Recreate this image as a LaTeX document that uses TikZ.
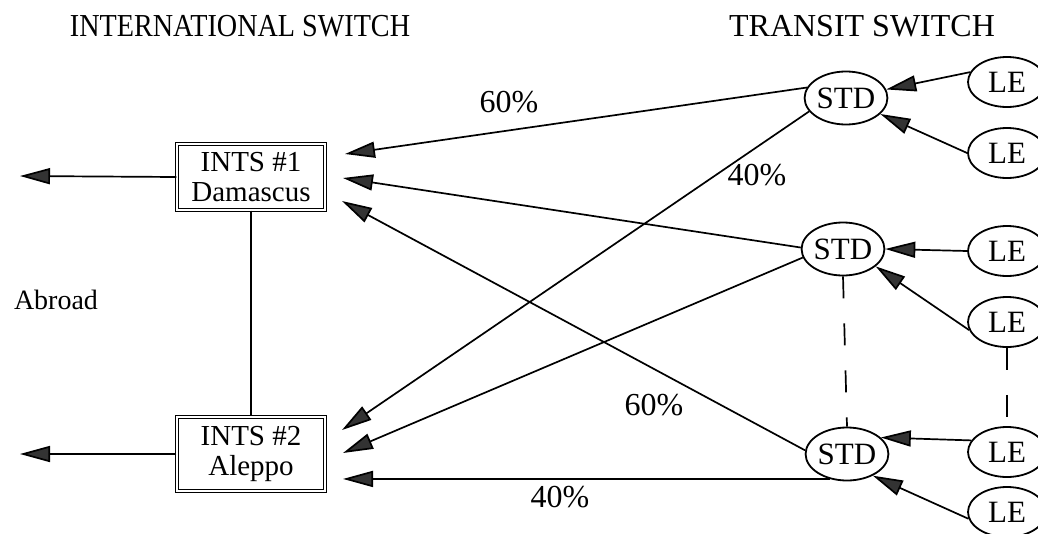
\documentclass[tikz,border=0pt]{standalone}
\usepackage{fontspec}
\setmainfont{Liberation Serif}
\usetikzlibrary{arrows.meta,calc,shapes.geometric}
\begin{document}
\begin{tikzpicture}[x=1pt,y=-1pt,
  conn/.style={line width=1.7pt, -{Triangle[length=30pt,width=16pt,fill=black!80]}},
  box/.style={draw, double, double distance=2.2pt, line width=1.1pt, minimum width=148pt, align=center, font=\fontsize{29}{30}\selectfont, inner sep=0pt},
  stdnode/.style={ellipse, draw, line width=1.8pt, minimum width=75pt, minimum height=53pt, inner sep=0pt, font=\fontsize{31}{31}\selectfont},
  lenode/.style={ellipse, draw, line width=1.8pt, minimum width=78pt, minimum height=50pt, inner sep=0pt, font=\fontsize{31}{31}\selectfont},
  lbl/.style={font=\fontsize{32}{32}\selectfont, inner sep=0pt},
  dsh/.style={line width=1.7pt, dash pattern=on 22pt off 25pt}]
\useasboundingbox (0,0) rectangle (1038,533);
\fill[white] (0,0) rectangle (1038,533);

% titles
\node[lbl] (t1) at (240,26) {\scalebox{0.88}[1]{INTERNATIONAL SWITCH}};
\node[lbl] (t2) at (862,26) {TRANSIT SWITCH};

% international switches
\node[box, minimum height=66pt] (ints1) at (251,177) {INTS \#1\\Damascus};
\node[box, minimum height=74pt] (ints2) at (251,454) {INTS \#2\\Aleppo};
\draw[line width=1.7pt] (ints1.south) -- (ints2.north);

\node[font=\fontsize{28}{28}\selectfont, inner sep=0pt] (abroad) at (56,300) {Abroad};
\coordinate (ab1) at (20,176);
\coordinate (ab2) at (20,454);
\draw[conn] (ints1.west) -- (ab1);
\draw[conn] (ints2.west) -- (ab2);

% transit switches
\node[stdnode] (stdA) at (846,98) {STD};
\node[stdnode] (stdB) at (843,249) {STD};
\node[stdnode] (stdC) at (847,454) {STD};

% local exchanges
\node[lenode] (le1) at (1007,82) {LE};
\node[lenode] (le2) at (1007,153) {LE};
\node[lenode] (le3) at (1007,251) {LE};
\node[lenode] (le4) at (1007,322) {LE};
\node[lenode] (le5) at (1007,452) {LE};
\node[lenode] (le6) at (1007,512) {LE};

% LE -> STD
\draw[conn] (le1.165) -- (stdA.12);
\draw[conn] (le2.west) -- (stdA.-25);
\draw[conn] (le3.west) -- (stdB.east);
\draw[conn] (le4.192) -- (stdB.-28);
\draw[conn] (le5.162) -- (stdC.26);
\draw[conn] (le6.190) -- (stdC.-40);

% dashed links
\draw[dsh] (stdB.south) -- (stdC.north);
\draw[dsh] (le4.south) -- (le5.north);

% arrow tip points at the international switches
\coordinate (i1a) at (345,154);
\coordinate (i1b) at (343,178);
\coordinate (i1c) at (342,201);
\coordinate (i2a) at (342,430);
\coordinate (i2b) at (343,453);
\coordinate (i2c) at (343,478);

% STD -> INTS
\draw[conn] (stdA.165) -- (i1a);
\draw[conn] (stdA.200) -- (i2a);
\draw[conn] (stdB.178) -- (i1b);
\draw[conn] (stdB.192) -- (i2b);
\draw[conn] (stdC.175) -- (i1c);
\draw[conn] (stdC.235) -- (stdC.235 -| i2c);

% percentages
\node[lbl] (p1) at (509,102) {60\%};
\node[lbl] (p2) at (757,175) {40\%};
\node[lbl] (p3) at (654,405) {60\%};
\node[lbl] (p4) at (560,497) {40\%};
\end{tikzpicture}
\end{document}
